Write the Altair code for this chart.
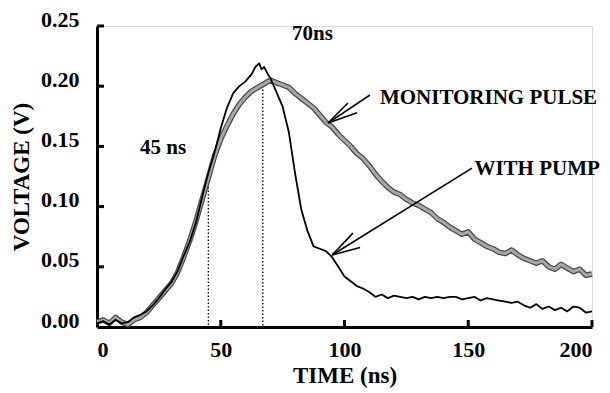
import altair as alt
import pandas as pd

# ---- data ----
t_mon = [0, 2.5, 5, 7.5, 10, 12.5, 15, 17.5, 20, 22.5, 25, 27.5, 30, 32.5, 35, 37.5,
         40, 42.5, 45, 47.5, 50, 52.5, 55, 57.5, 60, 62.5, 65, 67.5, 70, 72.5, 75, 77.5,
         80, 82.5, 85, 87.5, 90, 92.5, 95, 97.5, 100, 102.5, 105, 107.5, 110, 112.5, 115,
         117.5, 120, 122.5, 125, 127.5, 130, 132.5, 135, 137.5, 140, 142.5, 145, 147.5,
         150, 152.5, 155, 157.5, 160, 162.5, 165, 167.5, 170, 172.5, 175, 177.5, 180,
         182.5, 185, 187.5, 190, 192.5, 195, 197.5, 200]
v_mon = [0.004, 0.006, 0.003, 0.008, 0.004, 0.002, 0.006, 0.008, 0.012, 0.018, 0.024,
         0.030, 0.036, 0.045, 0.058, 0.072, 0.088, 0.106, 0.124, 0.142, 0.156, 0.167,
         0.177, 0.185, 0.191, 0.196, 0.199, 0.202, 0.205, 0.203, 0.201, 0.199, 0.194,
         0.190, 0.186, 0.182, 0.176, 0.170, 0.166, 0.160, 0.155, 0.150, 0.144, 0.140,
         0.134, 0.127, 0.121, 0.116, 0.112, 0.110, 0.106, 0.103, 0.101, 0.098, 0.095,
         0.090, 0.087, 0.083, 0.080, 0.077, 0.079, 0.073, 0.070, 0.067, 0.065, 0.062,
         0.061, 0.064, 0.060, 0.057, 0.055, 0.053, 0.055, 0.050, 0.048, 0.052, 0.049,
         0.046, 0.048, 0.043, 0.044]

t_pump = [0, 2.5, 5, 7.5, 10, 12.5, 15, 17.5, 20, 22.5, 25, 27.5, 30, 32.5, 35, 37.5,
          40, 42.5, 45, 47.5, 50, 52.5, 55, 57.5, 60, 62.5, 64, 65.5, 66.5, 67.5, 69, 70,
          72.5, 75, 77.5, 80, 82.5, 85, 87.5, 90, 92.5, 95, 97.5, 100, 102.5, 105, 107.5,
          110, 112.5, 115, 117.5, 120, 122.5, 125, 127.5, 130, 132.5, 135, 137.5, 140,
          142.5, 145, 147.5, 150, 152.5, 155, 157.5, 160, 162.5, 165, 167.5, 170, 172.5,
          175, 177.5, 180, 182.5, 185, 187.5, 190, 192.5, 195, 197.5, 200]
v_pump = [0.003, 0.005, 0.002, 0.006, 0.003, 0.004, 0.008, 0.010, 0.013, 0.018, 0.024,
          0.031, 0.037, 0.046, 0.059, 0.071, 0.087, 0.108, 0.128, 0.145, 0.165, 0.182,
          0.194, 0.200, 0.204, 0.210, 0.216, 0.219, 0.214, 0.216, 0.210, 0.207, 0.195,
          0.183, 0.162, 0.128, 0.098, 0.080, 0.067, 0.065, 0.063, 0.058, 0.050, 0.042,
          0.038, 0.034, 0.032, 0.029, 0.025, 0.027, 0.024, 0.026, 0.025, 0.024, 0.025,
          0.023, 0.025, 0.024, 0.025, 0.024, 0.025, 0.025, 0.023, 0.024, 0.025, 0.022,
          0.024, 0.023, 0.022, 0.021, 0.020, 0.021, 0.018, 0.016, 0.019, 0.015, 0.017,
          0.014, 0.016, 0.013, 0.017, 0.016, 0.012, 0.013]

marker_t = [45, 67]
marker_v = [0.125, 0.203]

x_tick_vals = [0, 50, 100, 150, 200]
y_tick_vals = [0.00, 0.05, 0.10, 0.15, 0.20, 0.25]

# arrow segments (shaft + two barbs each)
arr_x = [110.3, 101.4, 105.1, 151.5, 103.4, 106.3]
arr_y = [0.1927, 0.186, 0.178, 0.132, 0.078, 0.066]
arr_x2 = [93.3, 93.3, 93.3, 95.0, 95.0, 95.0]
arr_y2 = [0.1694, 0.1694, 0.1694, 0.0598, 0.0598, 0.0598]

lab_text = ["MONITORING PULSE", "WITH PUMP", "70ns"]
lab_x = [114.3, 152.5, 78.8]
lab_y = [0.1906, 0.131, 0.243]

left_text = ["45 ns"]
left_x = [36.0]
left_y = [0.149]

W, H = 495, 301
FONT = "Liberation Serif"

mon = pd.DataFrame({"t": t_mon, "v": v_mon})
pump = pd.DataFrame({"t": t_pump, "v": v_pump})
markers = pd.DataFrame({"t": marker_t, "v": marker_v, "z": [0, 0]})
arrows = pd.DataFrame({"x": arr_x, "y": arr_y, "x2": arr_x2, "y2": arr_y2})
labels = pd.DataFrame({"text": lab_text, "x": lab_x, "y": lab_y})
labels_r = pd.DataFrame({"text": left_text, "x": left_x, "y": left_y})
xt = pd.DataFrame({"t": x_tick_vals[1:]})
yt = pd.DataFrame({"v": y_tick_vals[1:]})

xs = alt.Scale(domain=[0, 200], nice=False, zero=False)
ys = alt.Scale(domain=[0, 0.25], nice=False, zero=False)

xaxis = alt.Axis(values=x_tick_vals, tickSize=0, domainWidth=3, domainColor="black",
                 labelFont=FONT, labelFontWeight="bold", labelFontSize=22,
                 labelColor="black", labelPadding=12, grid=False,
                 title="TIME (ns)", titleFont=FONT, titleFontWeight="bold",
                 titleFontSize=23, titleColor="black", titlePadding=4)
yaxis = alt.Axis(values=y_tick_vals, format=".2f", tickSize=0, domainWidth=3,
                 domainColor="black", labelFont=FONT, labelFontWeight="bold",
                 labelFontSize=22, labelColor="black", labelPadding=18,
                 labelBaseline="alphabetic", grid=False,
                 title="VOLTAGE (V)", titleFont=FONT, titleFontWeight="bold",
                 titleFontSize=23, titleColor="black", titlePadding=7)

base_x = alt.X("t:Q", scale=xs, axis=xaxis)
base_y = alt.Y("v:Q", scale=ys, axis=yaxis)

dotted = alt.Chart(markers).mark_rule(color="black", strokeWidth=1.3,
                                      strokeDash=[1.5, 2]).encode(
    x=base_x, y=base_y, y2="z:Q")

mon_outer = alt.Chart(mon).mark_line(color="#4a4a4a", strokeWidth=5.5,
                                     strokeJoin="round").encode(x="t:Q", y="v:Q")
mon_inner = alt.Chart(mon).mark_line(color="#a8a8a8", strokeWidth=3,
                                     strokeJoin="round").encode(x="t:Q", y="v:Q")
pump_line = alt.Chart(pump).mark_line(color="black", strokeWidth=1.8,
                                      strokeJoin="round").encode(x="t:Q", y="v:Q")

arrow_rules = alt.Chart(arrows).mark_rule(color="black", strokeWidth=1.6).encode(
    x="x:Q", y="y:Q", x2="x2:Q", y2="y2:Q")

texts = alt.Chart(labels).mark_text(align="left", baseline="middle", font=FONT,
                                    fontWeight="bold", fontSize=21, color="black").encode(
    x="x:Q", y="y:Q", text="text:N")
texts_r = alt.Chart(labels_r).mark_text(align="right", baseline="middle", font=FONT,
                                        fontWeight="bold", fontSize=21, color="black").encode(
    x="x:Q", y="y:Q", text="text:N")

xticks = alt.Chart(xt).mark_rule(color="black", strokeWidth=3).encode(
    x="t:Q", y=alt.value(H), y2=alt.value(H - 7))
yticks = alt.Chart(yt).mark_rule(color="black", strokeWidth=3).encode(
    y="v:Q", x=alt.value(0), x2=alt.value(7))

chart = alt.layer(dotted, mon_outer, mon_inner, pump_line, arrow_rules, texts, texts_r,
                  xticks, yticks).properties(
    width=W, height=H,
    autosize=alt.AutoSizeParams(type="none"),
    padding={"left": 89, "top": 18, "right": 10, "bottom": 64},
).configure_view(stroke=None).configure(background="white")

chart.save("out.html", embed_options={"renderer": "svg", "actions": False})
